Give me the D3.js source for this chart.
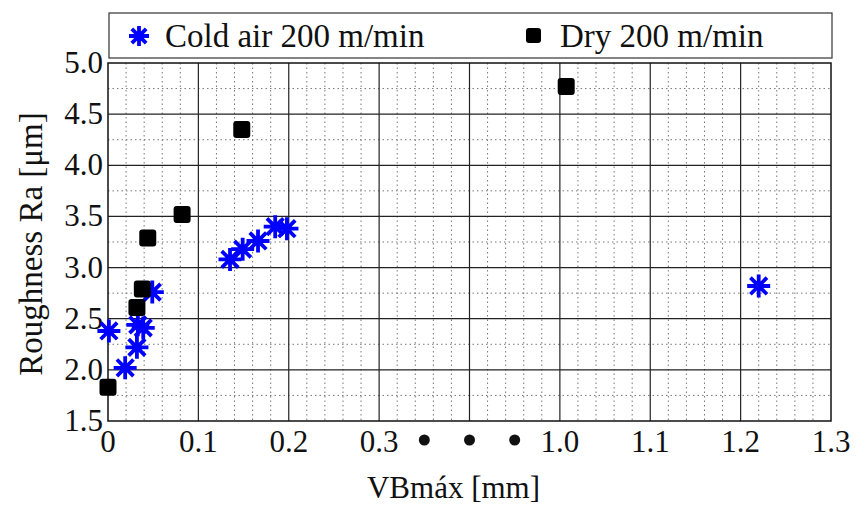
<!DOCTYPE html>
<html>
<head>
<meta charset="utf-8">
<script src="https://cdn.jsdelivr.net/npm/d3@7"></script>
<style>
  body { margin: 0; background: #fff; }
  text { font-family: "Liberation Serif", "Times New Roman", serif; fill: #111; }
</style>
</head>
<body>
<svg width="860" height="506"></svg>
<script>
/* data */
var coldX = [0.001, 0.019, 0.032, 0.033, 0.039, 0.049, 0.135, 0.149, 0.166, 0.185, 0.198, 1.22];
var coldY = [2.38, 2.02, 2.22, 2.44, 2.41, 2.76, 3.08, 3.18, 3.26, 3.40, 3.38, 2.82];
var dryX = [0.0, 0.032, 0.038, 0.044, 0.082, 0.148, 1.007];
var dryY = [1.83, 2.61, 2.79, 3.29, 3.52, 4.35, 4.77];

var xTicks = [0, 0.1, 0.2, 0.3, 1.0, 1.1, 1.2, 1.3];
var xTickLabels = ["0", "0.1", "0.2", "0.3", "1.0", "1.1", "1.2", "1.3"];
var yTicks = [1.5, 2.0, 2.5, 3.0, 3.5, 4.0, 4.5, 5.0];
var breakDots = [3.5, 4, 4.5]; // in grid units, the "• • •" on the broken axis
var legendNames = ["Cold air 200 m/min", "Dry 200 m/min"];

var svg = d3.select("svg");
var pLeft = 108, pRight = 831, pTop = 63, pBottom = 421;

// grid units: 8 equal intervals, the 0.3..1.0 stretch is squeezed into 2 of them
var u = d3.scaleLinear().domain([0, 8]).range([pLeft, pRight]);
var x = d3.scaleLinear().domain([0, 0.3, 1.0, 1.3]).range([u(0), u(3), u(5), u(8)]);
var y = d3.scaleLinear().domain([1.5, 5.0]).range([pBottom, pTop]);

var g = svg.append("g");

// minor grid
var minorU = d3.range(0, 8.001, 0.2).filter(function (d) { return Math.abs(d - Math.round(d)) > 1e-6; });
g.selectAll(".vminor").data(minorU).enter().append("line")
    .attr("x1", function (d) { return u(d); }).attr("x2", function (d) { return u(d); })
    .attr("y1", pTop).attr("y2", pBottom)
    .attr("stroke", "#777").attr("stroke-width", 1).attr("stroke-dasharray", "1.5,3");
var minorY = d3.range(1.75, 5, 0.5);
g.selectAll(".hminor").data(minorY).enter().append("line")
    .attr("x1", pLeft).attr("x2", pRight)
    .attr("y1", function (d) { return y(d); }).attr("y2", function (d) { return y(d); })
    .attr("stroke", "#777").attr("stroke-width", 1).attr("stroke-dasharray", "1.5,3");

// major grid
g.selectAll(".vmajor").data(d3.range(1, 8)).enter().append("line")
    .attr("x1", function (d) { return u(d); }).attr("x2", function (d) { return u(d); })
    .attr("y1", pTop).attr("y2", pBottom)
    .attr("stroke", "#222").attr("stroke-width", 1.2);
g.selectAll(".hmajor").data(yTicks.slice(1, -1)).enter().append("line")
    .attr("x1", pLeft).attr("x2", pRight)
    .attr("y1", function (d) { return y(d); }).attr("y2", function (d) { return y(d); })
    .attr("stroke", "#222").attr("stroke-width", 1.2);

// frame
g.append("rect").attr("x", pLeft).attr("y", pTop)
    .attr("width", pRight - pLeft).attr("height", pBottom - pTop)
    .attr("fill", "none").attr("stroke", "#111").attr("stroke-width", 1.5);

// tick labels
svg.selectAll(".xt").data(xTicks).enter().append("text")
    .attr("x", function (d) { return x(d); })
    .attr("y", pBottom + 31)
    .attr("text-anchor", "middle")
    .attr("font-size", 31)
    .text(function (d, i) { return xTickLabels[i]; });
svg.selectAll(".dot").data(breakDots).enter().append("circle")
    .attr("cx", function (d) { return u(d); })
    .attr("cy", pBottom + 19)
    .attr("r", 5.5).attr("fill", "#111");
svg.selectAll(".yt").data(yTicks).enter().append("text")
    .attr("x", pLeft - 5)
    .attr("y", function (d) { return y(d) + 10; })
    .attr("text-anchor", "end")
    .attr("font-size", 31)
    .text(function (d) { return d3.format(".1f")(d); });

// axis titles
svg.append("text")
    .attr("x", (pLeft + pRight) / 2 - 16).attr("y", 498)
    .attr("text-anchor", "middle").attr("font-size", 31)
    .text("VBmáx [mm]");
svg.append("text")
    .attr("transform", "translate(42," + ((pTop + pBottom) / 2 + 2) + ") rotate(-90)")
    .attr("text-anchor", "middle").attr("font-size", 33)
    .text("Roughness Ra [μm]");

// markers
function star(sel, r) {
    sel.append("path")
        .attr("d", "M" + (-r) + ",0H" + r + "M0," + (-r) + "V" + r +
            "M" + (-r * 0.72) + "," + (-r * 0.72) + "L" + (r * 0.72) + "," + (r * 0.72) +
            "M" + (-r * 0.72) + "," + (r * 0.72) + "L" + (r * 0.72) + "," + (-r * 0.72))
        .attr("stroke", "#0000ff").attr("stroke-width", 3.8).attr("fill", "none");
}

var cold = coldX.map(function (d, i) { return { x: d, y: coldY[i] }; });
var dry = dryX.map(function (d, i) { return { x: d, y: dryY[i] }; });

svg.append("g").selectAll("g").data(cold).enter().append("g")
    .attr("transform", function (d) { return "translate(" + x(d.x) + "," + y(d.y) + ")"; })
    .each(function () { star(d3.select(this), 11.5); });

svg.append("g").selectAll("rect").data(dry).enter().append("rect")
    .attr("x", function (d) { return x(d.x) - 8.5; })
    .attr("y", function (d) { return y(d.y) - 8.5; })
    .attr("width", 17).attr("height", 17).attr("rx", 3)
    .attr("fill", "#000");

// legend
var leg = svg.append("g");
leg.append("rect").attr("x", 109).attr("y", 13).attr("width", 723).attr("height", 45)
    .attr("fill", "#fff").attr("stroke", "#333").attr("stroke-width", 1.2);
var ls = leg.append("g").attr("transform", "translate(139,36)");
star(ls, 10);
leg.append("text").attr("x", 165).attr("y", 47).attr("font-size", 33).text(legendNames[0]);
leg.append("rect").attr("x", 526).attr("y", 28).attr("width", 15).attr("height", 15).attr("rx", 3).attr("fill", "#000");
leg.append("text").attr("x", 560).attr("y", 47).attr("font-size", 33).text(legendNames[1]);
</script>
</body>
</html>
